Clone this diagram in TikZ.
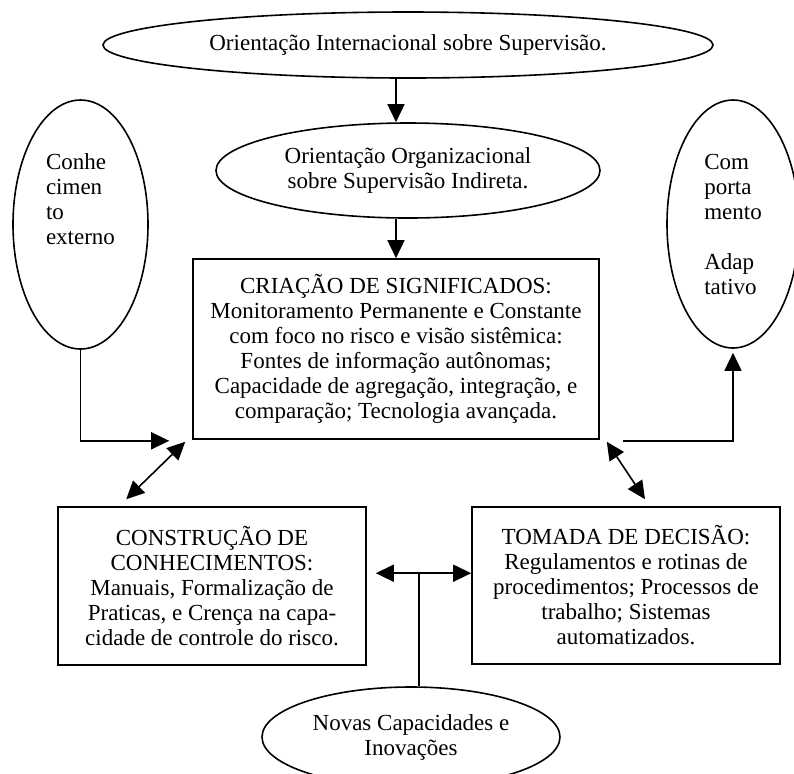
\documentclass[tikz,border=0pt]{standalone}
\usepackage{fontspec}
\setmainfont{Liberation Serif}
\usetikzlibrary{shapes.geometric,arrows.meta,calc}

\begin{document}
\begin{tikzpicture}[x=0.5pt,y=-0.5pt,
  every node/.style={font=\fontsize{11.5pt}{12.5pt}\selectfont, inner sep=0pt, line width=0.8pt},
  oval/.style={draw, ellipse, align=center},
  sideoval/.style={draw, ellipse, align=left},
  box/.style={draw, rectangle, align=center},
  link/.style={line width=0.8pt},
  tip/.style={link, -{Triangle[length=9pt,width=8.5pt]}},
  bitip/.style={link, {Triangle[length=9pt,width=8.5pt]}-{Triangle[length=9pt,width=8.5pt]}}
]
\useasboundingbox (0,0) rectangle (794,773);
\clip (0,0) rectangle (794,773);

% guidance levels
\node[oval, minimum width=305pt, minimum height=33pt] (intl) at (408,45)
  {Orientação Internacional sobre Supervisão.};
\node[oval, minimum width=192pt, minimum height=47.5pt] (org) at (408,170.5)
  {Orientação Organizacional\\sobre Supervisão Indireta.};

% side ellipses
\node[sideoval, minimum width=67.5pt, minimum height=124.5pt] (conh) at (80.5,224.5)
  {Conhe\\cimen\\to\\externo\\[12.5pt]\mbox{}};
\node[sideoval, minimum width=66pt, minimum height=124pt] (comp) at (733,224)
  {Com\\porta\\mento\\[12.5pt]Adap\\tativo};

% main boxes
\node[box, minimum width=203pt, minimum height=90pt] (crit) at (396,349)
  {CRIAÇÃO DE SIGNIFICADOS:\\Monitoramento Permanente e Constante\\com foco no risco e visão sistêmica:\\Fontes de informação autônomas;\\Capacidade de agregação, integração, e\\comparação; Tecnologia avançada.};
\node[box, minimum width=154pt, minimum height=79pt] (cons) at (212,586)
  {CONSTRUÇÃO DE\\CONHECIMENTOS:\\Manuais, Formalização de\\Praticas, e Crença na capa-\\cidade de controle do risco.};
\node[box, minimum width=154pt, minimum height=78.5pt] (toma) at (626,585.5)
  {TOMADA DE DECISÃO:\\Regulamentos e rotinas de\\procedimentos; Processos de\\trabalho; Sistemas\\automatizados.};

% innovation source
\node[oval, minimum width=149pt, minimum height=50pt] (novas) at (411,737)
  {Novas Capacidades e\\Inovações};

% connectors
\draw[tip] (intl.south -| crit.north) -- (org.north -| crit.north);
\draw[tip] (org.south -| crit.north) -- (crit.north);

\coordinate (cin) at ($(crit.south west)+(-23,1)$);
\draw[tip] (conh.south) |- (cin);
\draw[bitip] ($(crit.south west)+(-7,2)$) -- ($(cons.north west)+(69,-7)$);

\coordinate (cout) at ($(crit.south east)+(23,1)$);
\draw[tip] (cout) -| ($(comp.south)+(0,4)$);
\draw[bitip] ($(crit.south east)+(7,2)$) -- ($(toma.north)+(19,-7)$);

\coordinate (junc) at ($(novas.north)+(8,-113)$);
\draw[bitip] ($(cons.east |- junc)+(9,0)$) -- (toma.west |- junc);
\draw[link] (junc) -- (junc |- novas.north);
\end{tikzpicture}
\end{document}
